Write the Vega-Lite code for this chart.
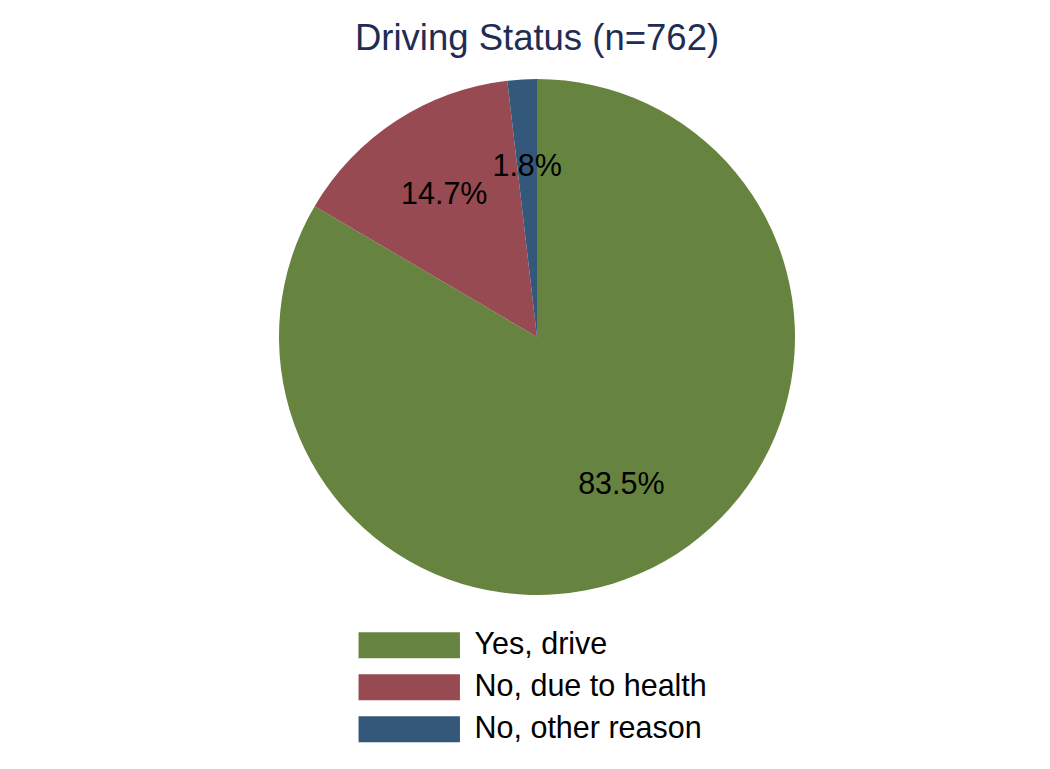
{
  "$schema": "https://vega.github.io/schema/vega-lite/v6.json",
  "autosize": "none",
  "width": 1026,
  "height": 534,
  "padding": {"left": 24, "top": 70, "right": 0, "bottom": 165},
  "background": "white",
  "title": {
    "text": "Driving Status (n=762)",
    "fontSize": 36.5,
    "font": "Liberation Sans",
    "fontWeight": "normal",
    "color": "#1F2D54",
    "anchor": "middle",
    "offset": 13
  },
  "data": {
    "values": [
      {"status": "Yes, drive", "count": 636, "pct": "83.5%", "k": 1},
      {"status": "No, due to health", "count": 112, "pct": "14.7%", "k": 2},
      {"status": "No, other reason", "count": 14, "pct": "1.8%", "k": 3}
    ]
  },
  "encoding": {
    "theta": {"field": "count", "type": "quantitative", "stack": true},
    "order": {"field": "k", "type": "quantitative"},
    "color": {
      "field": "status",
      "type": "nominal",
      "sort": ["Yes, drive", "No, due to health", "No, other reason"],
      "scale": {
        "domain": ["Yes, drive", "No, due to health", "No, other reason"],
        "range": ["#66843F", "#974A51", "#33587A"]
      },
      "legend": {
        "title": null,
        "orient": "none",
        "legendX": 370,
        "legendY": 560,
        "direction": "vertical",
        "symbolType": "M-3.9,-1L3.9,-1L3.9,1L-3.9,1Z",
        "symbolSize": 676,
        "symbolStrokeWidth": 0,
        "symbolOpacity": 1,
        "labelOffset": 50,
        "labelFontSize": 30.5,
        "labelFont": "Liberation Sans",
        "labelColor": "black",
        "rowPadding": 11,
        "labelLimit": 400
      }
    }
  },
  "layer": [
    {
      "mark": {"type": "arc", "outerRadius": 258, "stroke": null}
    },
    {
      "mark": {"type": "text", "radius": 170, "fontSize": 30.5, "font": "Liberation Sans", "color": "black", "align": "center", "baseline": "middle"},
      "encoding": {
        "text": {"field": "pct", "type": "nominal"},
        "detail": {"field": "status", "type": "nominal"},
        "color": {"value": "black"}
      }
    }
  ],
  "config": {"view": {"stroke": null}}
}
